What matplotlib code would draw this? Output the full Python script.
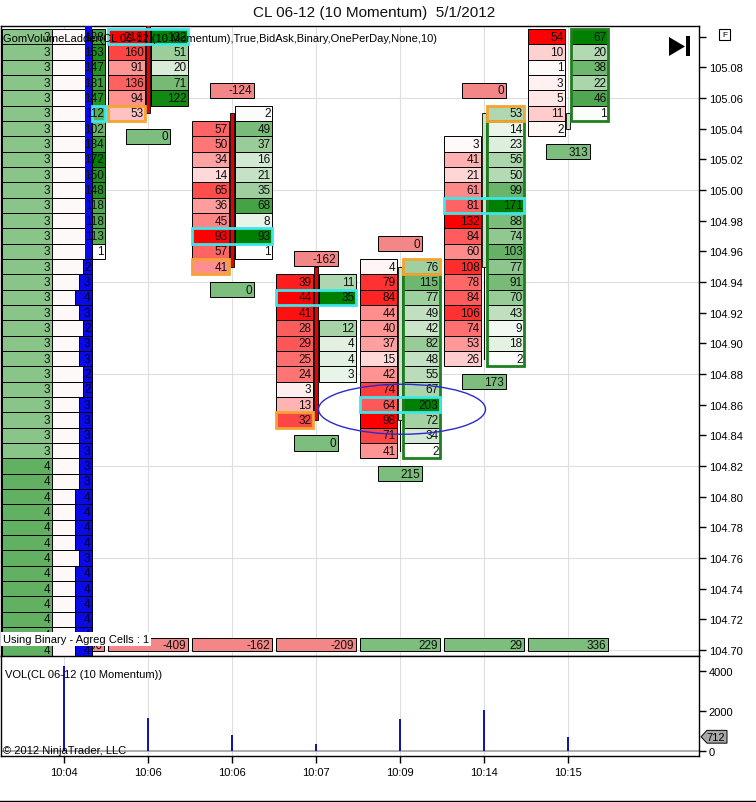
import matplotlib
matplotlib.use('Agg')
import matplotlib.pyplot as plt
from matplotlib.patches import Rectangle, Ellipse, Polygon
from matplotlib.lines import Line2D
import matplotlib.transforms as mtransforms
import numpy as np

plt.rcParams['font.family'] = ['Liberation Sans', 'DejaVu Sans']
plt.rcParams['font.size'] = 8

# ---------------- data ----------------
time_labels = ["10:04", "10:06", "10:06", "10:07", "10:09", "10:14", "10:15"]
volume = [4250, 1650, 822, 347, 1615, 2053, 712]
bar_delta = [-36, -409, -162, -209, 229, 29, 336]
box_above = [None, None, -124, -162, 0, 0, None]
box_below = [None, 0, 0, 0, 215, 173, 313]

# leftmost, partially visible ladder (10:04)
bar0_top = 105.10
bar0_prev = [3] * 28 + [4] * 13
bar0_ask = [128, 153, 147, 131, 147, 112, 102, 134, 172, 150, 148, 118, 118, 113, 1]
bar0_bid = [2, 3, 4, 3, 2, 3, 3, 2, 2, 3, 3, 3, 3, 3, 3, 4, 4, 4, 4, 3, 4, 4, 4, 4, 4, 4]
bar0_poc = 105.05

bar1_top = 105.10
bar1_bid = [218, 160, 91, 136, 94, 53]
bar1_ask = [132, 51, 20, 71, 122, None]
bar2_top = 105.05
bar2_bid = [None, 57, 50, 34, 14, 65, 36, 45, 93, 57, 41]
bar2_ask = [2, 49, 37, 16, 21, 35, 68, 8, 93, 1, None]
bar3_top = 104.94
bar3_bid = [39, 44, 41, 28, 29, 25, 24, 3, 13, 32]
bar3_ask = [11, 35, None, 12, 4, 4, 3, None, None, None]
bar4_top = 104.95
bar4_bid = [4, 79, 84, 44, 40, 37, 15, 42, 74, 64, 98, 71, 41]
bar4_ask = [76, 115, 77, 49, 42, 82, 48, 55, 67, 203, 72, 34, 2]
bar5_top = 105.05
bar5_bid = [None, None, 3, 41, 21, 61, 81, 132, 84, 60, 108, 78, 84, 106, 74, 53, 26]
bar5_ask = [53, 14, 23, 56, 50, 99, 171, 88, 74, 103, 77, 91, 70, 43, 9, 18, 2]
bar6_top = 105.10
bar6_bid = [54, 10, 1, 3, 5, 11, 2]
bar6_ask = [67, 20, 38, 22, 46, 1, None]

candle_open = [105.13, 105.13, 105.05, 104.95, 104.85, 104.95, 105.04]
candle_close = [104.69, 105.05, 104.95, 104.85, 104.95, 105.05, 105.05]
candle_high = [105.13, 105.13, 105.05, 104.95, 104.95, 105.05, 105.05]
candle_low = [104.69, 105.05, 104.95, 104.85, 104.83, 104.89, 105.04]
poc_price = [105.05, 105.10, 104.97, 104.93, 104.86, 104.99, None]
close_side = [None, 'bid', 'bid', 'bid', 'ask', 'ask', None]

price_ticks = [104.70, 104.72, 104.74, 104.76, 104.78, 104.80, 104.82, 104.84, 104.86,
               104.88, 104.90, 104.92, 104.94, 104.96, 104.98, 105.00, 105.02, 105.04,
               105.06, 105.08, 105.10]
price_grid = [104.70, 104.76, 104.82, 104.88, 104.94, 105.00, 105.06]
vol_ticks = [0, 2000, 4000]

ladders = [(bar1_top, bar1_bid, bar1_ask), (bar2_top, bar2_bid, bar2_ask),
           (bar3_top, bar3_bid, bar3_ask), (bar4_top, bar4_bid, bar4_ask),
           (bar5_top, bar5_bid, bar5_ask), (bar6_top, bar6_bid, bar6_ask)]

# ---------------- geometry / style ----------------
W, H = 756, 803
PX = 1 / 84.0          # x data units per pixel
TICK = 0.01
HALF = TICK / 2
BID_L, BID_R = -40 * PX, -3 * PX
ASK_L, ASK_R = 3 * PX, 40 * PX
CYAN = '#3ee6ea'
ORANGE = '#f4a430'
DKGREEN = '#1f7f1f'
BOX_RED = '#f38686'
BOX_GREEN = '#7dbd7d'
EDGE_LW = 0.7
CELL_FS = 8.5


def red(v, vmax):
    t = v / vmax
    return (1.0, 1 - t, 1 - t)


def green(v, vmax):
    t = v / vmax
    return (1 - t, 1 - 0.5 * t, 1 - t)


fig = plt.figure(figsize=(W / 100, H / 100), dpi=100)
fig.patch.set_facecolor('white')
ax = fig.add_axes([1 / W, (H - 657) / H, 698 / W, 630 / H])
axv = fig.add_axes([1 / W, (H - 757) / H, 698 / W, 100 / H])

xlim = ((1 - 64) * PX, (699 - 64) * PX)
ppx = 0.01 / 15.334
ax.set_xlim(*xlim)
ax.set_ylim(104.70 - 6 * ppx, 105.08 + 41.3 * ppx)
axv.set_xlim(*xlim)
axv.set_ylim(-250, 4750)

for a in (ax, axv):
    for s in a.spines.values():
        s.set_color('black')
        s.set_linewidth(1)
    for i in range(len(time_labels)):
        a.axvline(i, color='#dedede', lw=0.8, zorder=0)

for g in price_grid:
    ax.axhline(g, color='#dedede', lw=0.8, zorder=0)


def cell(x0, x1, p, color, text, z=3, tcolor='#101010'):
    ax.add_patch(Rectangle((x0, p - HALF), x1 - x0, TICK, facecolor=color,
                           edgecolor='black', lw=EDGE_LW, zorder=z))
    if text is not None:
        ax.text(x1 - 1.5 * PX, p, str(text), ha='right', va='center', fontsize=CELL_FS,
                color=tcolor, zorder=6, clip_on=True)


# ---- bar 0 (partial) ----
A_L, A_R = -62 * PX, -12 * PX
WICK0_L, WICK0_R = 21 * PX, 28 * PX
ASK0_R = 41 * PX
for i, v in enumerate(bar0_prev):
    p = round(bar0_top - i * TICK, 2)
    cell(A_L, A_R, p, green(v, 6.5), v)
n_top = len(bar0_ask)
for i in range(n_top):
    p = round(bar0_top - i * TICK, 2)
    cell(A_R, WICK0_L, p, '#fff8f8', None)
ax.add_patch(Rectangle((WICK0_L, candle_close[0]), WICK0_R - WICK0_L,
                       candle_open[0] - candle_close[0], facecolor='#0a0ae6',
                       edgecolor='none', zorder=4))
amax0 = max(bar0_ask)
for i, v in enumerate(bar0_ask):
    p = round(bar0_top - i * TICK, 2)
    cell(WICK0_R, ASK0_R, p, green(v, amax0), v)
for i, v in enumerate(bar0_bid):
    p = round(bar0_top - (n_top + i) * TICK, 2)
    bl = WICK0_R - 4.3 * v * PX
    cell(A_R, bl, p, '#fff8f8', None)
    cell(bl, WICK0_R, p, '#0a0ae6', v, z=4.5, tcolor='#000030')
ax.add_patch(Rectangle((WICK0_R, bar0_poc - HALF), ASK0_R - WICK0_R, TICK, fill=False,
                       edgecolor=CYAN, lw=2, zorder=5))

# ---- bars 1..6 ----
for k, (top, bidv, askv) in enumerate(ladders, start=1):
    bmax = max(v for v in bidv if v is not None)
    amax = max(v for v in askv if v is not None)
    prices = [round(top - i * TICK, 2) for i in range(len(bidv))]
    for p, b, a in zip(prices, bidv, askv):
        if b is not None:
            cell(k + BID_L, k + BID_R, p, red(b, bmax), b)
        if a is not None:
            cell(k + ASK_L, k + ASK_R, p, green(a, amax), a)
    hi = max(p for p, b, a in zip(prices, bidv, askv) if b is not None or a is not None)
    lo = min(p for p, b, a in zip(prices, bidv, askv) if b is not None or a is not None)
    o, c = candle_open[k], candle_close[k]
    if c < o:
        ax.add_patch(Rectangle((k - 2.3 * PX, c), 4.6 * PX, o - c, facecolor='#e80000',
                               edgecolor='black', lw=0.6, zorder=4))
    else:
        ax.plot([k, k], [candle_low[k], candle_high[k]], color='black', lw=0.8, zorder=4)
        ax.add_patch(Rectangle((k - 1.6 * PX, o), 3.2 * PX, c - o, facecolor='#c4e4c4',
                               edgecolor='black', lw=0.6, zorder=4.2))
        ask_rows = [p for p, a in zip(prices, askv) if a is not None]
        rows = [p for p in ask_rows if not (close_side[k] == 'ask' and abs(p - c) < 1e-6)]
        ax.add_patch(Rectangle((k + ASK_L, min(rows) - HALF), ASK_R - ASK_L,
                               max(rows) - min(rows) + TICK, fill=False, edgecolor=DKGREEN,
                               lw=2, zorder=5))
    if poc_price[k] is not None:
        ax.add_patch(Rectangle((k + BID_L, poc_price[k] - HALF), ASK_R - BID_L, TICK,
                               fill=False, edgecolor=CYAN, lw=2, zorder=5))
    if close_side[k] is not None:
        x0, x1 = (BID_L, BID_R) if close_side[k] == 'bid' else (ASK_L, ASK_R)
        ax.add_patch(Rectangle((k + x0, c - HALF), x1 - x0, TICK, fill=False,
                               edgecolor=ORANGE, lw=2, zorder=5.2))
    for val, yc, col in ((box_above[k], hi + 1.5 * TICK, BOX_RED),
                         (box_below[k], lo - 1.5 * TICK, BOX_GREEN)):
        if val is None:
            continue
        ax.add_patch(Rectangle((k - 22 * PX, yc - 0.49 * TICK), 44 * PX, 0.98 * TICK,
                               facecolor=col, edgecolor='black', lw=EDGE_LW, zorder=3))
        ax.text(k + 20 * PX, yc, str(val), ha='right', va='center', fontsize=CELL_FS,
                color='#101010', zorder=6)

# ---- highlight ellipse around the bar 4 volume cluster ----
ax.add_patch(Ellipse((4 + 2 * PX, poc_price[4] - 0.003), 167 * PX, 0.0326, fill=False,
                     edgecolor='#2a2ad0', lw=1, zorder=7))

# ---- bottom delta boxes ----
btrans = mtransforms.blended_transform_factory(ax.transData, ax.transAxes)
for k, d in enumerate(bar_delta):
    col = BOX_RED if d < 0 else BOX_GREEN
    ax.add_patch(Rectangle((k + BID_L, 0.008), ASK_R - BID_L, 0.0206, transform=btrans,
                           facecolor=col, edgecolor='black', lw=EDGE_LW, zorder=2.5))
    ax.text(k + ASK_R - 2 * PX, 0.018, str(d), transform=btrans, ha='right', va='center',
            fontsize=CELL_FS, color='#101010', zorder=2.6)

# ---- texts on main panel ----
ax.text(2 / 698, (657 - 39) / 630,
        "GomVolumeLadder(CL 06-12 (10 Momentum),True,BidAsk,Binary,OnePerDay,None,10)",
        transform=ax.transAxes, ha='left', va='center', fontsize=8, color='black', zorder=10)
ax.text(2 / 698, (657 - 640) / 630, "Using Binary - Agreg Cells : 1", transform=ax.transAxes,
        ha='left', va='center', fontsize=8, color='black', zorder=10,
        bbox=dict(facecolor='white', edgecolor='none', pad=1.5))


def afx(px):
    return (px - 1) / 698


def afy(py):
    return (657 - py) / 630


ax.add_patch(Polygon([(afx(669), afy(38)), (afx(669), afy(57)), (afx(685), afy(47.5))],
                     closed=True, transform=ax.transAxes, facecolor='black', edgecolor='none',
                     zorder=10))
ax.add_patch(Rectangle((afx(686), afy(57)), afx(690) - afx(686), afy(37) - afy(57),
                       transform=ax.transAxes, facecolor='black', edgecolor='none', zorder=10))

# axis ticks
ax.set_xticks([])
ax.yaxis.tick_right()
ax.set_yticks(price_ticks)
ax.set_yticklabels([f"{t:.2f}" if t < 105.095 else "" for t in price_ticks])
ax.tick_params(axis='y', direction='out', length=5, width=1, labelsize=8, pad=2, colors='black')

# ---- volume panel ----
axv.bar(range(len(volume)), volume, width=0.03, color='#1414b4', zorder=3)
axv.axhline(0, color='#a0a0a0', lw=1.2, zorder=2)
axv.yaxis.tick_right()
axv.set_yticks(vol_ticks)
axv.set_yticklabels([str(v) for v in vol_ticks])
axv.tick_params(axis='y', direction='out', length=5, width=1, labelsize=8, pad=2)
axv.set_xticks(range(len(time_labels)))
axv.set_xticklabels(time_labels)
axv.tick_params(axis='x', direction='out', length=5, width=1, labelsize=8, pad=3)
axv.text(4 / 698, 0.82, "VOL(CL 06-12 (10 Momentum))", transform=axv.transAxes, ha='left',
         va='center', fontsize=8, zorder=10)
axv.text(2 / 698, 0.06, "\u00a9 2012 NinjaTrader, LLC", transform=axv.transAxes, ha='left',
         va='center', fontsize=8, zorder=10)

# last-value marker
vtrans = mtransforms.blended_transform_factory(axv.transAxes, axv.transData)
last = volume[-1]
mk = [(1 + 2 / 698, last), (1 + 8 / 698, last + 320), (1 + 28 / 698, last + 320),
      (1 + 28 / 698, last - 320), (1 + 8 / 698, last - 320)]
axv.add_patch(Polygon(mk, closed=True, transform=vtrans, facecolor='#a8a8a8',
                      edgecolor='black', lw=0.7, clip_on=False, zorder=10))
axv.text(1 + 17 / 698, last, str(last), transform=vtrans, ha='center', va='center',
         fontsize=8, clip_on=False, zorder=11)

# ---- figure-level decorations ----
fig.text(374 / W, 1 - 13 / H, "CL 06-12 (10 Momentum)  5/1/2012", ha='center', va='center',
         fontsize=11, color='#111111')
fig.add_artist(Rectangle((719 / W, 1 - 41 / H), 11 / W, 11 / H, transform=fig.transFigure,
                         fill=False, edgecolor='black', lw=0.8))
fig.text(724.5 / W, 1 - 35.5 / H, "F", ha='center', va='center', fontsize=6)
fig.add_artist(Line2D([0, 1], [1.5 / H, 1.5 / H], transform=fig.transFigure, color='black',
                      lw=1))

fig.savefig('out.png', dpi=100, facecolor='white')
